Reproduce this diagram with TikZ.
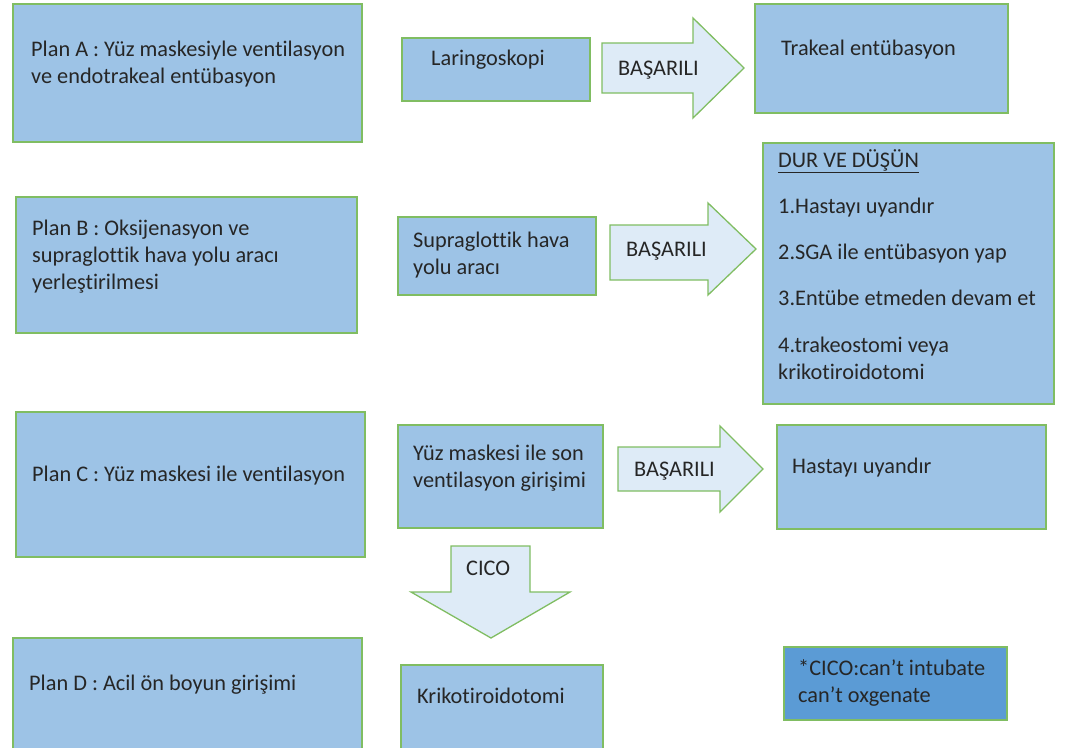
\documentclass[tikz,border=0pt]{standalone}
\usepackage{fontspec}
\setmainfont{Carlito}[Ligatures=NoCommon]
\definecolor{kutumavi}{RGB}{157,195,230}
\definecolor{okmavi}{RGB}{222,235,247}
\definecolor{notmavi}{RGB}{91,155,213}
\definecolor{yesil}{RGB}{128,189,98}
\definecolor{yazirengi}{RGB}{38,38,38}

\begin{document}
\begin{tikzpicture}[x=1pt,y=-1pt,
  kutu/.style={fill=kutumavi,draw=yesil,line width=1.3pt},
  blok/.style={fill=okmavi,draw=yesil,line width=1.3pt,line join=miter},
  metin/.style={anchor=base west,align=left,inner sep=0pt,text=yazirengi,font=\fontsize{22.3}{27}\selectfont}]
\useasboundingbox (0,0) rectangle (1075,747);
% plan kutulari (metinlerin konumu son satirin taban cizgisi)
\draw[kutu] (13,4) rectangle (362,142);
\draw[kutu] (16,197) rectangle (357,333);
\draw[kutu] (16,412) rectangle (365,557);
\draw[kutu] (13,638) rectangle (362,770);
\node[metin] (planA) at (31,83) {Plan A : Yüz maskesiyle ventilasyon\\ve endotrakeal entübasyon};
\node[metin] (planB) at (32,289) {Plan B : Oksijenasyon ve\\supraglottik hava yolu aracı\\yerleştirilmesi};
\node[metin] (planC) at (32,481) {Plan C : Yüz maskesi ile ventilasyon};
\node[metin] (planD) at (29,690) {Plan D : Acil ön boyun girişimi};
% orta sutun
\draw[kutu] (402,38) rectangle (590,101);
\draw[kutu] (398,217) rectangle (596,295);
\draw[kutu] (398,425) rectangle (603,528);
\draw[kutu] (401,665) rectangle (603,770);
\node[metin] (laringo) at (431,65) {Laringoskopi};
\node[metin] (sga) at (413,274) {Supraglottik hava\\yolu aracı};
\node[metin] (sonvent) at (413,487) {Yüz maskesi ile son\\ventilasyon girişimi};
\node[metin] (kriko) at (417,703) {Krikotiroidotomi};
% basarili oklari
\foreach \sol/\ust/\alt/\bas/\hust/\halt/\uc [count=\i] in {602/43/93/693/18/118/744,610/225/280/708/203/295/756,618/447/491/720/426/512/763} {
  \draw[blok] (\sol,\ust) -- (\bas,\ust) -- (\bas,\hust) -- (\uc,{(\hust+\halt)/2}) -- (\bas,\halt) -- (\bas,\alt) -- (\sol,\alt) -- cycle;
  \node[metin] (basarili\i) at ({\sol+16},{(\hust+\halt)/2+7}) {BAŞARILI};
}
% cico oku
\draw[blok] (451,546) -- (530,546) -- (530,592) -- (570,592) -- (491,638) -- (411,592) -- (451,592) -- cycle;
\node[metin] (cico) at (466,575) {CICO};
% sag sutun
\draw[kutu] (755,4) rectangle (1008,113);
\draw[kutu] (763,143) rectangle (1054,404);
\draw[kutu] (777,425) rectangle (1046,529);
\draw[fill=notmavi,draw=yesil,line width=1.3pt] (784,647) rectangle (1007,720);
\node[metin] (trakeal) at (781,55) {Trakeal entübasyon};
\node[metin] (durdusun) at (778,379) {\underline{DUR VE DÜŞÜN}\\[19pt]1.Hastayı uyandır\\[19pt]2.SGA ile entübasyon yap\\[19pt]3.Entübe etmeden devam et\\[20pt]4.trakeostomi veya\\krikotiroidotomi};
\node[metin] (uyandir) at (792,473) {Hastayı uyandır};
\node[metin] (cicoaciklama) at (798,702) {*CICO:can’t intubate\\can’t oxgenate};
\end{tikzpicture}
\end{document}
